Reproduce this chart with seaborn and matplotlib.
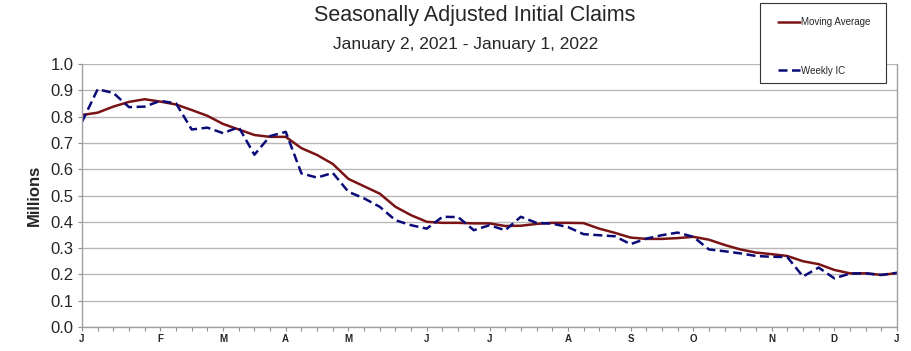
import numpy as np
import pandas as pd
import seaborn as sns
import matplotlib.pyplot as plt
from matplotlib.patches import Rectangle

# Weeks ending Jan 2, 2021 ... Jan 1, 2022 (53 weeks), values in millions
weekly_ic = [
    0.780, 0.904, 0.890, 0.836, 0.838, 0.860, 0.850, 0.751, 0.758, 0.737,
    0.760, 0.655, 0.726, 0.742, 0.584, 0.568, 0.586, 0.514, 0.489, 0.457,
    0.406, 0.387, 0.374, 0.419, 0.418, 0.368, 0.387, 0.368, 0.419, 0.396,
    0.393, 0.380, 0.353, 0.349, 0.345, 0.315, 0.336, 0.349, 0.359, 0.343,
    0.295, 0.288, 0.280, 0.270, 0.267, 0.266, 0.192, 0.226, 0.185, 0.203,
    0.204, 0.198, 0.206,
]
moving_avg = [
    0.806, 0.815, 0.838, 0.856, 0.866, 0.857, 0.846, 0.825, 0.803, 0.772,
    0.751, 0.730, 0.723, 0.723, 0.680, 0.654, 0.620, 0.563, 0.535, 0.507,
    0.457, 0.425, 0.400, 0.396, 0.396, 0.394, 0.394, 0.384, 0.385, 0.392,
    0.396, 0.396, 0.395, 0.374, 0.358, 0.340, 0.335, 0.335, 0.338, 0.343,
    0.332, 0.312, 0.295, 0.283, 0.277, 0.270, 0.250, 0.239, 0.217, 0.204,
    0.204, 0.198, 0.205,
]
month_labels = ["J", "F", "M", "A", "M", "J", "J", "A", "S", "O", "N", "D", "J"]
month_weeks = [0, 5, 9, 13, 17, 22, 26, 31, 35, 39, 44, 48, 52]

week = np.arange(len(weekly_ic))
df = pd.DataFrame({"week": week, "Moving Average": moving_avg, "Weekly IC": weekly_ic})

sns.set_style("white")
plt.rcParams["font.family"] = ["Liberation Sans", "DejaVu Sans"]

W, H = 911, 351
fig = plt.figure(figsize=(W / 100, H / 100), dpi=100)
ax = fig.add_axes([82 / W, 1 - 327 / H, (897 - 82) / W, (327 - 64) / H])

sns.lineplot(df, x="week", y="Moving Average", color="#7a1414", lw=1.8,
             label="Moving Average", ax=ax, legend=False)
sns.lineplot(df, x="week", y="Weekly IC", color="#0a0a78", lw=1.8,
             label="Weekly IC", ax=ax, legend=False)
ax.lines[1].set_dashes((3.6, 1.8))

ax.set_xlim(0, 52)
ax.set_ylim(0, 1.0)
yt = np.arange(0, 1.01, 0.1)
ax.set_yticks(yt)
ax.set_yticklabels([f"{v:.1f}" for v in yt], fontsize=12)
ax.set_xticks(month_weeks)
ax.set_xticklabels(month_labels, fontsize=7, fontweight="bold")
ax.set_xticks(week, minor=True)
ax.tick_params(axis="x", which="both", direction="out", length=3, width=0.8,
               color="#909090", bottom=True, pad=2)
ax.tick_params(axis="y", direction="out", length=3, width=0.8, color="#909090",
               left=True, pad=3)

ax.grid(axis="y", color="#b8b8b8", lw=1)
for side in ["left", "bottom", "right"]:
    ax.spines[side].set_visible(True)
    ax.spines[side].set_color("#a0a0a0")
    ax.spines[side].set_linewidth(1)
ax.spines["top"].set_visible(False)

ax.set_xlabel(None)
ax.set_ylabel("Millions", fontsize=12, fontweight="bold", labelpad=6)

fig.text(475 / W, 1 - 16 / H, "Seasonally Adjusted Initial Claims",
         ha="center", va="center", fontsize=15.5)
fig.text(466 / W, 1 - 44 / H, "January 2, 2021 - January 1, 2022",
         ha="center", va="center", fontsize=12.5)

# legend box
fig.patches.append(Rectangle((760 / W, 1 - 83 / H), 126 / W, 80 / H,
                             transform=fig.transFigure, facecolor="white",
                             edgecolor="#333333", lw=0.8, zorder=5))
handles, labels = ax.get_legend_handles_labels()
leg = fig.legend(handles, labels, loc="upper left",
                 bbox_to_anchor=(778 / W, 1 - 17 / H),
                 fontsize=7, frameon=False, borderpad=0, labelspacing=4.0,
                 handlelength=2.3, handletextpad=0.1, borderaxespad=0)
leg.set_zorder(6)

plt.savefig("out.png", dpi=100)
